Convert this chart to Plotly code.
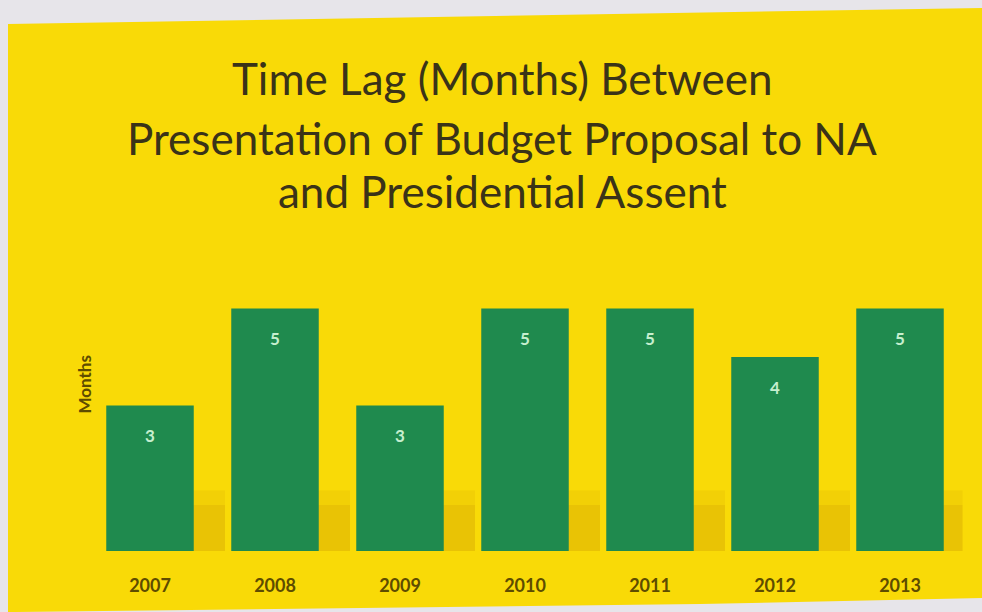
import plotly.graph_objects as go

# Budget cycle data
years = ["2007", "2008", "2009", "2010", "2011", "2012", "2013"]
months_lag = [3, 5, 3, 5, 5, 4, 5]

title_lines = [
    "Time Lag (Months) Between",
    "Presentation of Budget Proposal to NA",
    "and Presidential Assent",
]

W, H = 982, 612
bar_green = "#1f8a4e"
slide_yellow = "#f9da07"
label_olive = "#5e4c00"
font_family = "Lato, Open Sans, sans-serif"
xs = list(range(len(years)))

fig = go.Figure()

# soft cast shadow behind each column (two layers for a blurred edge)
for h, alpha in [(1.25, 0.10), (0.95, 0.16)]:
    fig.add_trace(go.Bar(
        x=xs, y=[min(v, h) for v in months_lag],
        width=0.68, offset=-0.08,
        marker=dict(color=f"rgba(185,130,0,{alpha})", line=dict(width=0)),
        hoverinfo="skip", showlegend=False,
    ))

fig.add_trace(go.Bar(
    x=xs, y=months_lag,
    width=0.7,
    marker=dict(color=bar_green, line=dict(width=0)),
    showlegend=False,
))

# value labels just inside the top of each column
for i, v in enumerate(months_lag):
    fig.add_annotation(
        x=i, y=v, xref="x", yref="y", yshift=-30,
        text=f"<b>{v}</b>", showarrow=False,
        font=dict(family=font_family, size=17, color="#c6efcf"),
    )

# slide panel (slightly skewed photo of the projected slide)
px = lambda x: x / W
py = lambda y: 1 - y / H
fig.add_shape(
    type="path", xref="paper", yref="paper", layer="below",
    path=(f"M {px(8)} {py(24)} L {px(982)} {py(8)} L {px(982)} {py(598)} "
          f"L {px(700)} {py(604)} L {px(16)} {py(612)} L {px(8)} {py(612)} Z"),
    fillcolor=slide_yellow, line=dict(width=0),
)

# title block
for line, yc in zip(title_lines, [78, 138, 191]):
    fig.add_annotation(
        x=px(502), y=py(yc), xref="paper", yref="paper",
        text=line, showarrow=False, xanchor="center", yanchor="middle",
        font=dict(family=font_family, size=44, color="#3a3318"),
    )

# axis title
fig.add_annotation(
    x=px(71), y=py(416), xref="paper", yref="paper",
    text="<b>Months</b>", textangle=-90, showarrow=False,
    font=dict(family=font_family, size=17, color=label_olive),
)

fig.update_layout(
    width=W, height=H,
    margin=dict(l=0, r=0, t=0, b=0),
    paper_bgcolor="#e7e5ea",
    plot_bgcolor="rgba(0,0,0,0)",
    barmode="overlay",
    xaxis=dict(
        domain=[px(87.5), px(962.5)],
        range=[-0.5, len(years) - 0.5],
        tickmode="array", tickvals=xs, ticktext=[f"<b>{y}</b>" for y in years],
        showgrid=False, zeroline=False, showline=False, ticks="",
        tickfont=dict(family=font_family, size=18, color=label_olive),
        ticklabelstandoff=22,
    ),
    yaxis=dict(
        domain=[py(551), py(551 - 48.5 * 6)],
        range=[0, 6],
        showgrid=False, zeroline=False, showline=False,
        showticklabels=False, ticks="",
    ),
)

fig.write_html("out.html")
